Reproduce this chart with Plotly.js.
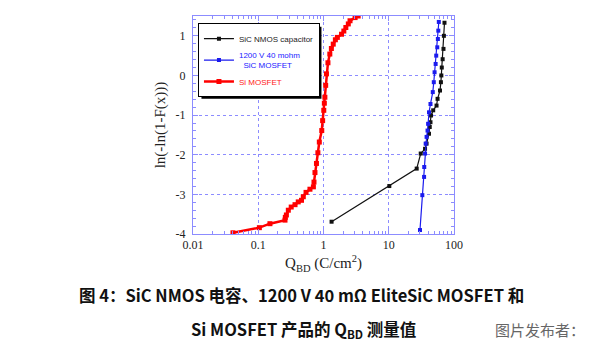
<!DOCTYPE html>
<html>
<head>
<meta charset="utf-8">
<script src="https://cdn.plot.ly/plotly-3.0.1.min.js"></script>
<style>html,body{margin:0;padding:0;background:#fff;}#chart{width:600px;height:351px;}</style>
</head>
<body>
<div id="chart"></div>
<script>
// Si MOSFET
const siX = [0.041, 0.104, 0.151, 0.257, 0.26, 0.27, 0.289, 0.32, 0.366, 0.41, 0.46, 0.49, 0.54, 0.62, 0.70, 0.715, 0.74, 0.78, 0.82, 0.863, 0.94, 0.97, 1.01, 1.03, 1.05, 1.08, 1.11, 1.17, 1.25, 1.32, 1.41, 1.52, 1.63, 1.89, 2.05, 2.2, 2.4, 2.55, 3.05, 3.4];
const siY = [-3.97, -3.84, -3.74, -3.65, -3.58, -3.52, -3.40, -3.32, -3.26, -3.19, -3.15, -3.06, -2.95, -2.87, -2.81, -2.69, -2.45, -2.22, -1.95, -1.68, -1.39, -1.14, -0.88, -0.70, -0.55, -0.25, 0.04, 0.32, 0.54, 0.68, 0.79, 0.90, 0.96, 1.04, 1.12, 1.21, 1.30, 1.38, 1.46, 1.50];
// SiC NMOS capacitor
const capX = [1.33, 10.2, 26.8, 30.9, 36, 38, 41.4, 42.5, 43.6, 44.5, 48, 54, 56, 61, 63, 64, 65, 67, 69, 70, 71.5];
const capY = [-3.69, -2.79, -2.35, -1.97, -1.85, -1.72, -1.47, -1.30, -1.18, -1.01, -0.88, -0.76, -0.59, -0.38, -0.17, 0.0, 0.2, 0.41, 0.67, 1.0, 1.33];
// 1200 V 40 mohm SiC MOSFET
const mosX = [30.1, 32.7, 34.8, 35, 36, 36.8, 38, 39.3, 40.1, 41.4, 43.6, 47.3, 49, 50.4, 52.3, 53.4, 55.4, 56.6, 57.5, 58.5];
const mosY = [-3.90, -3.02, -2.56, -2.31, -1.97, -1.72, -1.55, -1.39, -1.22, -0.93, -0.72, -0.42, -0.17, 0.08, 0.29, 0.50, 0.71, 0.92, 1.13, 1.35];
const xTickVals = [0.01, 0.1, 1, 10, 100];
const xTickText = ['0.01', '0.1', '1', '10', '100'];
const yTickVals = [-4, -3, -2, -1, 0, 1];
const yTickText = ['-4', '-3', '-2', '-1', '0', '1'];
const names = ['<span style="color:#222">SiC NMOS capacitor</span>',
  '<span style="color:#1a1aff">1200 V 40 mohm<br>\u00a0\u00a0SiC MOSFET</span>',
  '<span style="color:#ff2020">Si MOSFET</span>'];

// minor log tick positions (2..9 per decade)
const xMinor = [];
for (let d = -2; d < 2; d++) for (let m = 2; m <= 9; m++) xMinor.push(m * Math.pow(10, d));

const traces = [
  {x: capX, y: capY, name: names[0], mode: 'lines+markers', line: {color: '#111', width: 1.2}, marker: {color: '#111', size: 4, symbol: 'square'}},
  {x: mosX, y: mosY, name: names[1], mode: 'lines+markers', line: {color: '#1a1aee', width: 1.2}, marker: {color: '#1a1aee', size: 4, symbol: 'square'}},
  {x: siX, y: siY, name: names[2], mode: 'lines+markers', line: {color: '#ff0000', width: 2.5}, marker: {color: '#ff0000', size: 5, symbol: 'square'}}
];

const axisCol = '#8c8cff';
const layout = {
  width: 600, height: 351,
  margin: {l: 193, r: 146, t: 16, b: 117},
  paper_bgcolor: '#fff', plot_bgcolor: '#fff',
  showlegend: true,
  legend: {x: 0.019, y: 0.967, xanchor: 'left', yanchor: 'top', bgcolor: '#fff', bordercolor: '#000', borderwidth: 1,
    font: {family: 'Liberation Sans, Arial', size: 8}, tracegroupgap: 0, itemwidth: 30},
  xaxis: {type: 'log', range: [-2, 2], tickvals: xTickVals, ticktext: xTickText,
    showline: true, linecolor: axisCol, linewidth: 1, mirror: 'allticks', ticks: 'inside', ticklen: 5, tickcolor: axisCol,
    showgrid: true, gridcolor: axisCol, griddash: 'dot', gridwidth: 1, zeroline: false,
    minor: {tickmode: 'array', tickvals: xMinor, ticks: 'inside', ticklen: 3, tickcolor: axisCol, showgrid: false},
    tickfont: {family: 'Liberation Serif, Times New Roman', size: 12, color: '#222'},
    title: {text: 'Q<sub>BD</sub> (C/cm<sup>2</sup>)', font: {family: 'Liberation Serif, Times New Roman', size: 15, color: '#222'}, standoff: 6}},
  yaxis: {range: [-4, 1.5], tickvals: yTickVals, ticktext: yTickText,
    showline: true, linecolor: axisCol, linewidth: 1, mirror: 'allticks', ticks: 'inside', ticklen: 5, tickcolor: axisCol,
    showgrid: true, gridcolor: axisCol, griddash: 'dot', gridwidth: 1, zeroline: false,
    minor: {dtick: 0.2, ticks: 'inside', ticklen: 3, tickcolor: axisCol, showgrid: false},
    tickfont: {family: 'Liberation Serif, Times New Roman', size: 12, color: '#222'},
    ticklabelstandoff: 4,
    title: {text: 'ln(-ln(1-F(x)))', font: {family: 'Liberation Serif, Times New Roman', size: 15, color: '#222'}, standoff: 6}},
  shapes: [],
  annotations: [
    {xref: 'paper', yref: 'paper', x: 0.414, y: -0.28, xanchor: 'center', yanchor: 'middle', showarrow: false,
      text: '<b>图 4：SiC NMOS 电容、1200 V 40 mΩ EliteSiC MOSFET 和</b>',
      font: {family: 'Noto Sans CJK SC', size: 16.5, color: '#111'}},
    {xref: 'paper', yref: 'paper', x: 0.423, y: -0.44, xanchor: 'center', yanchor: 'middle', showarrow: false,
      text: '<b>Si MOSFET 产品的 Q<sub>BD</sub> 测量值</b>',
      font: {family: 'Noto Sans CJK SC', size: 16.5, color: '#111'}},
    {xref: 'paper', yref: 'paper', x: 1.51, y: -0.44, xanchor: 'right', yanchor: 'middle', showarrow: false,
      text: '图片发布者：',
      font: {family: 'Noto Sans CJK SC', size: 15, color: '#666'}}
  ]
};
Plotly.newPlot('chart', traces, layout, {displayModeBar: false, staticPlot: true}).then(function (gd) {
  // drop shadow behind the legend box, sized from the drawn legend
  const bg = gd.querySelector('.legend .bg');
  if (!bg) return;
  const r = bg.getBoundingClientRect();
  const fs = gd._fullLayout._size;
  const toPx = function (px) { return (px - fs.l) / fs.w; };
  const toPy = function (py) { return (fs.t + fs.h - py) / fs.h; };
  return Plotly.relayout(gd, {shapes: [{type: 'rect', xref: 'paper', yref: 'paper',
    x0: toPx(r.left + 3), x1: toPx(r.right + 2), y0: toPy(r.bottom + 2), y1: toPy(r.top + 3),
    fillcolor: '#000', line: {width: 0}, layer: 'above'}]});
});
</script>
</body>
</html>
